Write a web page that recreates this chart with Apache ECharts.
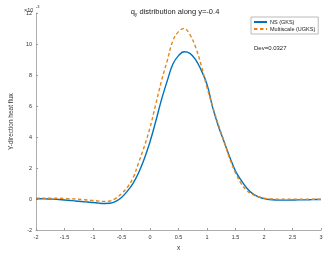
<!DOCTYPE html>
<html><head><meta charset="utf-8">
<script src="https://cdn.jsdelivr.net/npm/echarts@6/dist/echarts.min.js"></script>
<style>html,body{margin:0;padding:0;background:#fff}#c{width:333px;height:257px}</style>
</head><body><div id="c"></div>
<script>
var xs = [-2,-1.9,-1.8,-1.7,-1.6,-1.5,-1.4,-1.3,-1.2,-1.1,-1.0,-0.9,-0.8,-0.7,-0.6,-0.5,-0.4,-0.3,-0.2,-0.1,0,0.1,0.2,0.3,0.4,0.5,0.6,0.7,0.8,0.9,1.0,1.1,1.2,1.3,1.4,1.5,1.6,1.7,1.8,1.9,2.0,2.1,2.2,2.3,2.4,2.5,2.6,2.7,2.8,2.9,3.0];
var nsGKS = [0.02,0.02,0.01,0.0,-0.03,-0.06,-0.09,-0.12,-0.16,-0.19,-0.22,-0.26,-0.28,-0.27,-0.15,0.1,0.5,1.0,1.7,2.6,3.7,5.0,6.4,7.6,8.7,9.25,9.5,9.4,9.0,8.3,7.4,5.9,4.7,3.7,2.7,1.8,1.2,0.7,0.35,0.15,0.03,-0.03,-0.06,-0.07,-0.07,-0.06,-0.05,-0.05,-0.04,-0.03,-0.03];
var msUGKS = [0.06,0.06,0.06,0.05,0.05,0.04,0.02,0.0,-0.03,-0.06,-0.09,-0.13,-0.15,-0.12,0.05,0.35,0.75,1.35,2.35,3.4,4.6,6.1,7.6,8.9,10.2,10.8,11.0,10.6,9.8,8.6,7.2,5.95,4.8,3.7,2.6,1.7,1.0,0.55,0.3,0.15,0.06,0.01,0.0,-0.01,-0.01,-0.01,-0.01,-0.01,-0.01,-0.01,-0.01];
var xTicks = [-2,-1.5,-1,-0.5,0,0.5,1,1.5,2,2.5,3];
var yTicks = [-2,0,2,4,6,8,10,12];

function pairs(x, y){ return x.map(function(v,i){ return [v, y[i]]; }); }
var FONT = 'Liberation Sans, Arial, sans-serif';
var chart = echarts.init(document.getElementById('c'), null, {renderer:'canvas'});
chart.setOption({
  animation:false,
  backgroundColor:'#fff',
  title:{
    text:'q{s|y} distribution along y=-0.4',
    left:170, top:2, textAlign:'center',
    textStyle:{fontSize:7.5, fontWeight:'normal', color:'#222', fontFamily:FONT,
      rich:{s:{fontSize:5, padding:[5,0,0,0], color:'#222', fontFamily:FONT}}}
  },
  grid:{left:22, right:12, top:13, bottom:23},
  legend:{
    data:['NS (GKS)','Multiscale (UGKS)'],
    orient:'vertical', left:251, top:17, itemGap:1,
    itemWidth:13, itemHeight:6,
    itemStyle:{opacity:0},
    borderColor:'#aaa', borderWidth:0.8, padding:[2,3,2,2],
    textStyle:{fontSize:5.5, color:'#222', fontFamily:FONT, padding:[0,0,0,-2]}
  },
  xAxis:{
    type:'value', min:-2, max:3, interval:0.5,
    name:'x', nameLocation:'middle', nameGap:11,
    nameTextStyle:{fontSize:6.5, color:'#333', fontFamily:FONT},
    axisLine:{onZero:false, lineStyle:{color:'#999', width:0.8}},
    axisTick:{inside:true, length:2, lineStyle:{color:'#999'}},
    axisLabel:{fontSize:5.5, color:'#333', margin:4, fontFamily:FONT,
      formatter:function(v){ return xTicks.indexOf(v)>=0 ? String(v) : ''; }},
    splitLine:{show:false}
  },
  yAxis:{
    type:'value', min:-2, max:12, interval:2,
    name:'Y-direction heat flux', nameLocation:'middle', nameGap:12, nameRotate:90,
    nameTextStyle:{fontSize:6.5, color:'#333', fontFamily:FONT},
    axisLine:{show:true, onZero:false, lineStyle:{color:'#999', width:0.8}},
    axisTick:{show:true, inside:true, length:2, lineStyle:{color:'#999'}},
    axisLabel:{fontSize:5.5, color:'#333', margin:4, fontFamily:FONT,
      formatter:function(v){ return yTicks.indexOf(v)>=0 ? String(v) : ''; }},
    splitLine:{show:false}
  },
  graphic:[
    {type:'text', left:24, top:7, style:{text:'\u00d710', fontSize:5.5, fill:'#333', fontFamily:FONT}},
    {type:'text', left:36, top:5, style:{text:'-3', fontSize:4, fill:'#333', fontFamily:FONT}},
    {type:'text', left:254, top:45, style:{text:'Dev=0.0327', fontSize:6, fill:'#222', fontFamily:FONT}}
  ],
  series:[
    {name:'NS (GKS)', type:'line', data:pairs(xs, nsGKS), smooth:0.4, symbol:'none',
      lineStyle:{color:'#0072BD', width:1.4}, itemStyle:{color:'#0072BD'}},
    {name:'Multiscale (UGKS)', type:'line', data:pairs(xs, msUGKS), smooth:0.4, symbol:'none',
      lineStyle:{color:'#E5851A', width:1.4, type:[3.5,2.5]}, itemStyle:{color:'#E5851A'}}
  ]
});
</script></body></html>
